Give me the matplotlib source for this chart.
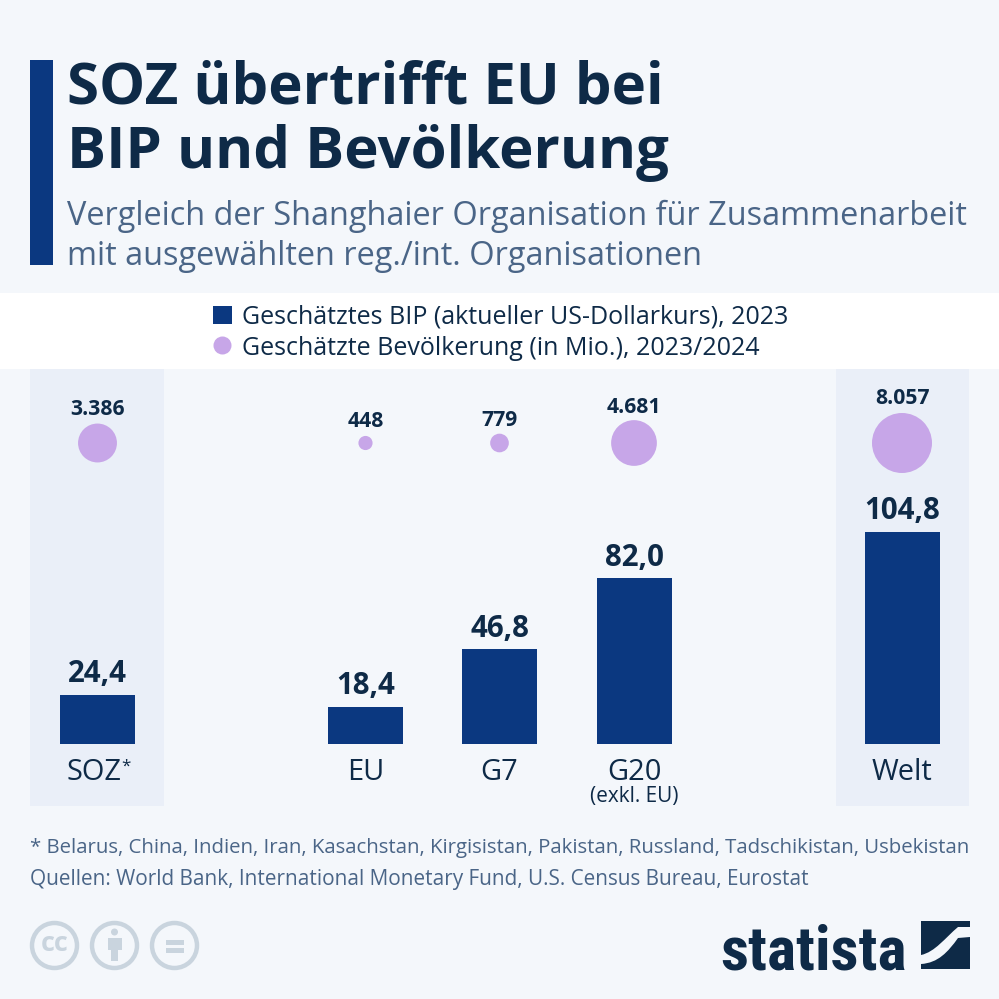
import numpy as np
import matplotlib
matplotlib.use('Agg')
import matplotlib.pyplot as plt
from matplotlib.patches import Rectangle, Circle, PathPatch
from matplotlib.path import Path

categories = ['SOZ', 'EU', 'G7', 'G20', 'Welt']
gdp = [24.4, 18.4, 46.8, 82.0, 104.8]
gdp_labels = ['24,4', '18,4', '46,8', '82,0', '104,8']
population = [3386, 448, 779, 4681, 8057]
population_labels = ['3.386', '448', '779', '4.681', '8.057']
x_pos = [97.5, 365.5, 499.5, 634, 902]

BG = '#f4f7fb'
PANEL = '#eaeff8'
BLUE = '#0b3880'
PURPLE = '#c7a6e8'
DARK = '#0e2a47'
GREY = '#4a6587'
ICON = '#c9d4de'

plt.rcParams['font.family'] = ['Open Sans', 'DejaVu Sans']

def px(n):
    return n * 0.72

fig = plt.figure(figsize=(9.99, 9.99), dpi=100, facecolor=BG)

# page layer, coordinates in pixels from the top left
page = fig.add_axes([0, 0, 1, 1])
page.set_xlim(0, 999)
page.set_ylim(999, 0)
page.axis('off')

page.add_patch(Rectangle((30, 60), 23, 205, color=BLUE, lw=0))
page.add_patch(Rectangle((0, 293), 999, 76, color='white', lw=0))
page.add_patch(Rectangle((30, 369), 134, 437, color=PANEL, lw=0))
page.add_patch(Rectangle((836, 369), 133, 437, color=PANEL, lw=0))

page.text(67, 104, 'SOZ übertrifft EU bei', fontsize=px(58.2), fontweight='bold', color=DARK, va='baseline')
page.text(67, 168, 'BIP und Bevölkerung', fontsize=px(58.2), fontweight='bold', color=DARK, va='baseline')
page.text(67, 225, 'Vergleich der Shanghaier Organisation für Zusammenarbeit', fontsize=px(32.5), color=GREY, va='baseline')
page.text(67, 265, 'mit ausgewählten reg./int. Organisationen', fontsize=px(32.5), color=GREY, va='baseline')

# legend
page.add_patch(Rectangle((213, 306), 19, 18, color=BLUE, lw=0))
page.add_patch(Circle((222.5, 345.5), 9, color=PURPLE, lw=0))
page.text(242, 324, 'Geschätztes BIP (aktueller US-Dollarkurs), 2023', fontsize=px(25), color=DARK, va='baseline')
page.text(242, 355, 'Geschätzte Bevölkerung (in Mio.), 2023/2024', fontsize=px(25), color=DARK, va='baseline')

# chart layer, y in GDP units, x in page pixels
PX_PER_UNIT = 2.023
BASE = 744
chart = fig.add_axes([0, 0, 1, 1], facecolor='none')
chart.set_xlim(0, 999)
chart.set_ylim(-(999 - BASE) / PX_PER_UNIT, BASE / PX_PER_UNIT)
chart.axis('off')

chart.bar(x_pos, gdp, width=75, color=BLUE, linewidth=0)
for x, v, lab in zip(x_pos, gdp, gdp_labels):
    chart.text(x, v + 6.2, lab, ha='center', va='baseline', fontsize=px(29.5), fontweight='bold', color=DARK)

# bubble area scales with population, the largest has radius 30 px
bubble_y = (BASE - 443) / PX_PER_UNIT
sizes = [(2 * 30 * np.sqrt(p / max(population)) * 0.72) ** 2 for p in population]
chart.scatter(x_pos, [bubble_y] * len(x_pos), s=sizes, color=PURPLE, linewidths=0, zorder=3)
label_baseline = [415, 427, 426, 413, 404]
for x, y, lab in zip(x_pos, label_baseline, population_labels):
    page.text(x, y, lab, ha='center', va='baseline', fontsize=px(21.2), fontweight='bold', color=DARK)

for x, c in zip(x_pos, categories):
    if c == 'SOZ':
        page.text(x - 4, 780, 'SOZ', ha='center', va='baseline', fontsize=px(29), color=DARK)
        page.text(x + 28, 771, '*', ha='center', va='baseline', fontsize=px(17), color=DARK)
    else:
        page.text(x, 780, c, ha='center', va='baseline', fontsize=px(29), color=DARK)
page.text(634, 802, '(exkl. EU)', ha='center', va='baseline', fontsize=px(20.8), color=DARK)

page.text(30, 853, '* Belarus, China, Indien, Iran, Kasachstan, Kirgisistan, Pakistan, Russland, Tadschikistan, Usbekistan',
          fontsize=px(20.37), color=GREY, va='baseline')
page.text(30, 885, 'Quellen: World Bank, International Monetary Fund, U.S. Census Bureau, Eurostat',
          fontsize=px(20.8), color=GREY, va='baseline')

# cc icons
for cx in [54.5, 114.5, 174.5]:
    page.add_patch(Circle((cx, 945.5), 22.5, fill=False, ec=ICON, lw=3.2))
page.text(54.5, 944, 'cc', ha='center', va='center', fontsize=px(27), fontweight='bold', color=ICON)
page.add_patch(Circle((114.5, 932), 3.5, color=ICON, lw=0))
page.add_patch(Rectangle((107.5, 938), 14, 12, color=ICON, lw=0))
page.add_patch(Rectangle((111, 950), 7, 11, color=ICON, lw=0))
page.add_patch(Rectangle((166, 940), 18, 4.5, color=ICON, lw=0))
page.add_patch(Rectangle((166, 948), 18, 4.5, color=ICON, lw=0))

# statista logo
page.text(720, 969, 'statista', ha='left', va='baseline', fontsize=px(61.5), fontweight='bold',
          family='Roboto Condensed', color=DARK)
top_shape = Path([(921, 921), (970, 921), (970, 927), (958, 927), (945, 938), (935, 952), (921, 955), (921, 921)],
                 [Path.MOVETO, Path.LINETO, Path.LINETO, Path.LINETO, Path.CURVE4, Path.CURVE4, Path.CURVE4, Path.CLOSEPOLY])
bot_shape = Path([(970, 937), (970, 969), (921, 969), (921, 964), (938, 963), (948, 952), (958, 938), (970, 937)],
                 [Path.MOVETO, Path.LINETO, Path.LINETO, Path.LINETO, Path.CURVE4, Path.CURVE4, Path.CURVE4, Path.CLOSEPOLY])
page.add_patch(PathPatch(top_shape, fc=DARK, lw=0))
page.add_patch(PathPatch(bot_shape, fc=DARK, lw=0))

fig.savefig('out.png', dpi=100, facecolor=BG)
